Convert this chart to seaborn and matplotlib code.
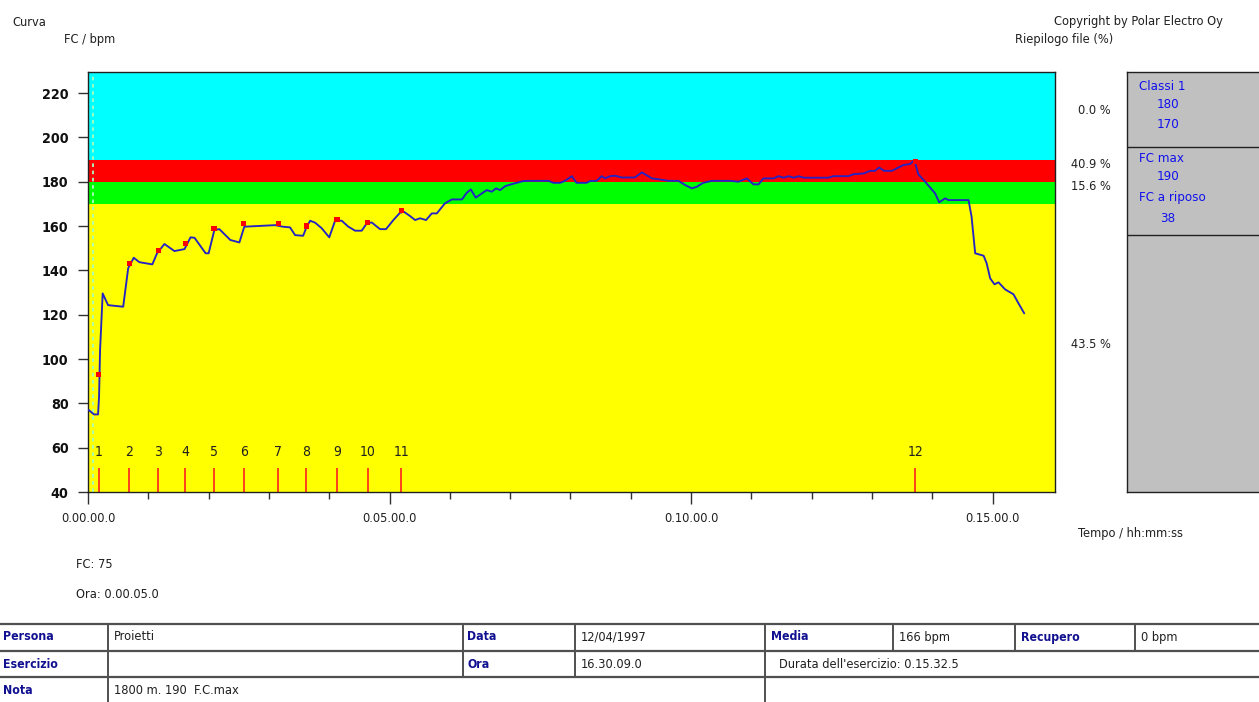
import matplotlib
matplotlib.use('Agg')
import matplotlib.pyplot as plt
import seaborn as sns
import pandas as pd
from matplotlib.lines import Line2D

# ---------------- data ----------------
time_s = [0.7, 6, 10, 11, 12, 14.6, 20, 35, 40, 45.5, 51, 64, 68.7, 76, 86, 96, 102, 106,
          117, 120, 125.7, 130.7, 141.6, 150.6, 155.5, 186, 194, 201, 206, 214, 217.6, 221,
          226, 232.5, 240, 245.8, 252.4, 259, 265.7, 272.3, 277.3, 282.3, 285.6, 290.5,
          296.5, 303.8, 310.4, 314.4, 320.4, 325.4, 330.3, 336.3, 342, 347, 355, 362, 372,
          376.8, 380.8, 385.8, 391.7, 396.7, 401.7, 406, 410, 415, 421.6, 426.5, 433, 440,
          458, 463, 469.6, 474.6, 481.3, 486, 496, 499.5, 506, 511, 514.4, 519.4, 524.4,
          531, 544, 551, 561, 569, 577.4, 587.4, 594, 600.7, 605.6, 612, 620.6, 638.8, 647,
          655.4, 662, 667, 672, 682, 687, 692, 697, 702, 707, 712, 736.6, 741.6, 756.5,
          761.5, 771.5, 778, 783, 787, 792, 799.7, 811, 818, 822, 826, 832.8, 839.5, 842.8,
          846.8, 852.7, 856, 876, 879, 882.6, 891, 894, 897.5, 901.8, 905.8, 912.4, 920.7,
          925.7, 931.4]
hr_bpm = [77, 75, 75, 83, 104, 129.6, 124.3, 123.6, 141, 145.7, 143.7, 142.7, 147.7, 151.9,
          148.7, 149.6, 154.9, 154.7, 147.7, 147.7, 158.2, 158.6, 153.7, 152.6, 159.7, 160.4,
          159.7, 159.4, 155.9, 155.6, 159.7, 162.4, 161.5, 159, 154.9, 162.4, 162.4, 159.7,
          157.9, 157.9, 161.2, 161.6, 160.4, 158.6, 158.6, 162.7, 166, 166.4, 164.5, 162.7,
          163.5, 162.7, 165.7, 165.7, 170.2, 172, 172, 175, 176.5, 172.8, 174.7, 176.2, 175.5,
          177, 176.2, 178, 178.9, 179.5, 180.3, 180.4, 180.4, 179.5, 179.5, 180.4, 182.5,
          179.5, 179.5, 180.3, 180.4, 182.5, 181.5, 182.5, 182.7, 181.9, 181.9, 184.2, 181.5,
          181, 180.4, 180.4, 178.5, 177, 177.7, 179.5, 180.4, 180.4, 180, 181.5, 178.8, 178.8,
          181.5, 181.5, 182.5, 181.8, 182.5, 181.8, 182.5, 181.8, 181.8, 182.5, 182.5, 183.4,
          183.7, 184.9, 184.9, 186.4, 184.9, 184.9, 187.5, 188, 189.8, 183.4, 180, 176.5,
          174.7, 170.7, 172.5, 171.7, 171.7, 164.2, 147.7, 146.6, 143.2, 136.4, 133.7, 134.6,
          131.4, 129.2, 125.1, 120.6]

lap_time_s = [10.6, 41, 70, 96.8, 125.4, 155, 189.4, 217.2, 247.8, 278.3, 311.8, 823]
lap_hr_bpm = [93, 143, 149, 152, 159, 161, 161, 160, 163, 161.5, 167, 189]
lap_labels = ['1', '2', '3', '4', '5', '6', '7', '8', '9', '10', '11', '12']

zone_limits = [40, 170, 180, 190, 229.5]
zone_colors = ['#FFFF00', '#00FF00', '#FF0000', '#00FFFF']
zone_pct = ['43.5 %', '15.6 %', '40.9 %', '0.0 %']

y_ticks = [40, 60, 80, 100, 120, 140, 160, 180, 200, 220]
x_major = [0, 300, 600, 900]
x_labels = ['0.00.00.0', '0.05.00.0', '0.10.00.0', '0.15.00.0']
x_minor = [60, 120, 180, 240, 360, 420, 480, 540, 660, 720, 780, 840]

cursor_time_s = 5
cursor_hr = 75
cursor_label = '0.00.05.0'

summary_rows = [('Classi 1', 'h'), ('180', 'v'), ('170', 'v'),
                ('FC max', 'h'), ('190', 'v'), ('FC a riposo', 'h'), ('38', 'v')]

# ---------------- style ----------------
sns.set_style('white')
FONT = ['DejaVu Sans']
plt.rcParams['font.family'] = FONT
plt.rcParams['font.stretch'] = 'condensed'
FS = 9.2
TXT = '#202020'

W, H = 1259, 702
fig = plt.figure(figsize=(W / 100, H / 100), dpi=100)
fig.patch.set_facecolor('white')


def fx(x):
    return x / W


def fy(y):
    return 1 - y / H


ax = fig.add_axes([fx(88), fy(492), (1055 - 88) / W, (492 - 72) / H])

for i, c in enumerate(zone_colors):
    ax.axhspan(zone_limits[i], zone_limits[i + 1], color=c, lw=0, zorder=0)

ax.axvline(cursor_time_s, color='#a8ffc0', lw=1.3, ls=(0, (2, 2)), zorder=1)

df = pd.DataFrame({'t': time_s, 'hr': hr_bpm})
sns.lineplot(data=df, x='t', y='hr', ax=ax, color='#2424c4', lw=1.35,
             sort=False, estimator=None, zorder=3)

ax.vlines(lap_time_s, 40, 51, colors='#ff2020', lw=1.2, zorder=2)
for t, lab in zip(lap_time_s, lap_labels):
    ax.text(t, 58, lab, ha='center', va='center', fontsize=10, color=TXT)

sns.scatterplot(x=lap_time_s, y=lap_hr_bpm, ax=ax, marker='s', s=14, color='red',
                edgecolor='none', zorder=4)

ax.set_xlim(0, 962)
ax.set_ylim(zone_limits[0], zone_limits[-1])
ax.set_xlabel('')
ax.set_ylabel('')
ax.set_yticks(y_ticks)
ax.set_yticklabels([str(v) for v in y_ticks], fontweight='bold', fontsize=10.3, color='#101010')
ax.set_xticks(x_major)
ax.set_xticklabels(x_labels, fontsize=FS, color=TXT)
ax.set_xticks(x_minor, minor=True)
ax.tick_params(axis='y', which='major', direction='out', length=7, width=1, pad=7,
               left=True, color='#303030')
ax.tick_params(axis='x', which='major', direction='out', length=8.5, width=1, pad=6,
               bottom=True, color='#303030')
ax.tick_params(axis='x', which='minor', direction='out', length=5, width=1,
               bottom=True, color='#303030')
for s in ax.spines.values():
    s.set_color('#202020')
    s.set_linewidth(1)

# right summary panel
pax = fig.add_axes([fx(1127), fy(492), 0.12, (492 - 72) / H])
pax.set_facecolor('#C0C0C0')
pax.set_xticks([])
pax.set_yticks([])
for s in pax.spines.values():
    s.set_color('#202020')
    s.set_linewidth(1)
pax.axhline((492 - 147) / 420, color='#202020', lw=1)
pax.axhline((492 - 235) / 420, color='#202020', lw=1)

panel_y = [87, 104, 125, 158, 177, 198, 218]
for (txt, kind), y in zip(summary_rows, panel_y):
    if kind == 'h':
        fig.text(fx(1139), fy(y), txt, ha='left', va='center', fontsize=9.5, color='#1010ee')
    else:
        fig.text(fx(1168), fy(y), txt, ha='center', va='center', fontsize=9.5, color='#1010ee')

# zone percentages
pct_y = [345, 187, 165, 110]
for p, y in zip(zone_pct, pct_y):
    fig.text(fx(1111), fy(y), p, ha='right', va='center', fontsize=FS, color=TXT)

# header texts
fig.text(fx(12), fy(22), 'Curva', ha='left', va='center', fontsize=FS, color=TXT)
fig.text(fx(64), fy(40), 'FC / bpm', ha='left', va='center', fontsize=FS, color=TXT)
fig.text(fx(1223), fy(22), 'Copyright by Polar Electro Oy', ha='right', va='center',
         fontsize=FS, color=TXT)
fig.text(fx(1015), fy(40), 'Riepilogo file (%)', ha='left', va='center', fontsize=FS,
         color=TXT)
fig.text(fx(1078), fy(534), 'Tempo / hh:mm:ss', ha='left', va='center', fontsize=FS,
         color=TXT)
fig.text(fx(76), fy(565), f'FC: {cursor_hr}', ha='left', va='center', fontsize=FS,
         color=TXT)
fig.text(fx(76), fy(595), f'Ora: {cursor_label}', ha='left', va='center', fontsize=FS,
         color=TXT)


# bottom table
def hline(y, x0=0, x1=W):
    fig.add_artist(Line2D([fx(x0), fx(x1)], [fy(y), fy(y)], color='#505050', lw=1.6))


def vline(x, y0, y1):
    fig.add_artist(Line2D([fx(x), fx(x)], [fy(y0), fy(y1)], color='#505050', lw=1.4))


for y in (624, 651, 677):
    hline(y)
for x in (108, 463, 575, 765, 893, 1015, 1135):
    vline(x, 624, 651)
for x in (108, 463, 575, 765):
    vline(x, 651, 677)
for x in (108, 765):
    vline(x, 677, 702)

LBL = dict(ha='left', va='center', fontsize=8.8, fontweight='bold', color='#101090')
VAL = dict(ha='left', va='center', fontsize=FS, color=TXT)
fig.text(fx(3), fy(637), 'Persona', **LBL)
fig.text(fx(114), fy(637), 'Proietti', **VAL)
fig.text(fx(467), fy(637), 'Data', **LBL)
fig.text(fx(581), fy(637), '12/04/1997', **VAL)
fig.text(fx(771), fy(637), 'Media', **LBL)
fig.text(fx(899), fy(637), '166 bpm', **VAL)
fig.text(fx(1021), fy(637), 'Recupero', **LBL)
fig.text(fx(1141), fy(637), '0 bpm', **VAL)
fig.text(fx(3), fy(664), 'Esercizio', **LBL)
fig.text(fx(467), fy(664), 'Ora', **LBL)
fig.text(fx(581), fy(664), '16.30.09.0', **VAL)
fig.text(fx(779), fy(664), "Durata dell'esercizio: 0.15.32.5", **VAL)
fig.text(fx(3), fy(690), 'Nota', **LBL)
fig.text(fx(114), fy(690), '1800 m. 190  F.C.max', **VAL)

fig.savefig('out.png', dpi=100, facecolor='white')
